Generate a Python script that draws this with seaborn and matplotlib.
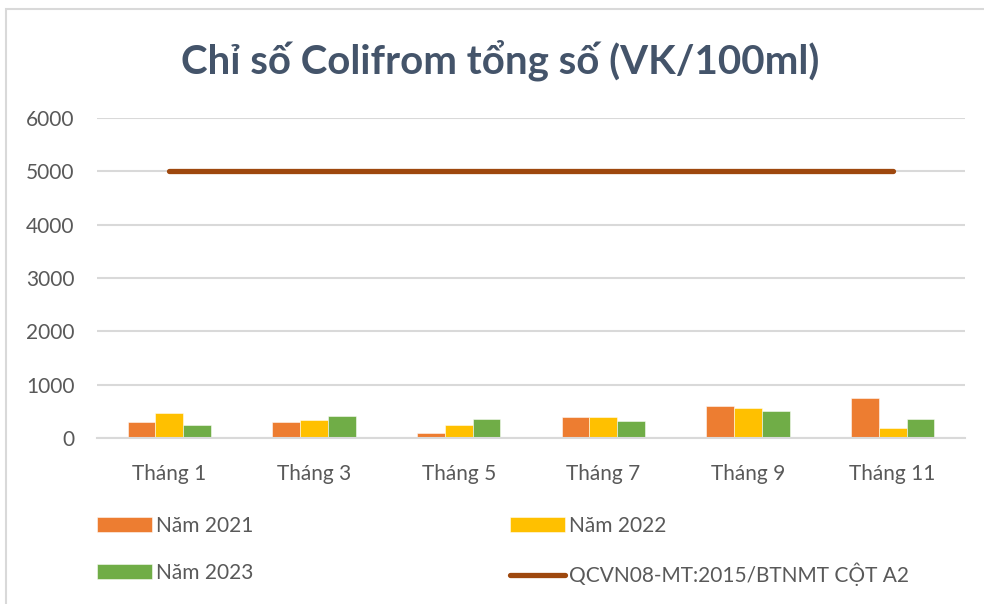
import matplotlib
matplotlib.use("Agg")
import matplotlib.pyplot as plt
import seaborn as sns
import pandas as pd
from matplotlib.patches import Rectangle

months = ["Tháng 1", "Tháng 3", "Tháng 5", "Tháng 7", "Tháng 9", "Tháng 11"]
nam_2021 = [305, 305, 90, 388, 592, 744]
nam_2022 = [465, 337, 235, 388, 566, 185]
nam_2023 = [235, 413, 363, 312, 515, 363]
standard = [5000, 5000, 5000, 5000, 5000, 5000]
series_names = ["Năm 2021", "Năm 2022", "Năm 2023"]
line_name = "QCVN08-MT:2015/BTNMT CỘT A2"
yticks = [0, 1000, 2000, 3000, 4000, 5000, 6000]
title = "Chỉ số Colifrom tổng số (VK/100ml)"

colors = ["#ED7D31", "#FFC000", "#70AD47"]
line_color = "#9E480E"
text_color = "#595959"
title_color = "#44546A"
grid_color = "#D9D9D9"

sns.set_theme(style="white")
plt.rcParams["font.family"] = ["Lato", "Open Sans", "DejaVu Sans"]

df = pd.DataFrame({
    "month": months * 3,
    "value": nam_2021 + nam_2022 + nam_2023,
    "series": [series_names[0]] * 6 + [series_names[1]] * 6 + [series_names[2]] * 6,
})
df_line = pd.DataFrame({"month": months, "value": standard})

fig = plt.figure(figsize=(9.84, 6.04), dpi=100)
ax = fig.add_axes([97 / 984, 1 - 438 / 604, 868 / 984, 320 / 604])

sns.barplot(data=df, x="month", y="value", hue="series", palette=colors,
            saturation=1, width=0.574, ax=ax, edgecolor=(1, 1, 1, 0.6), linewidth=0.6)
sns.lineplot(data=df_line, x="month", y="value", color=line_color, linewidth=3.8,
             ax=ax, label=line_name)
for ln in ax.lines:
    ln.set_solid_capstyle("round")

ax.set_xlim(-0.5, len(months) - 0.5)
ax.set_ylim(0, 6000)
ax.set_yticks(yticks)
ax.set_yticklabels([str(v) for v in yticks])
ax.set_xlabel("")
ax.set_ylabel("")
ax.yaxis.grid(True, color=grid_color, linewidth=1.5)
ax.set_axisbelow(True)
for s in ["top", "right", "left"]:
    ax.spines[s].set_visible(False)
ax.spines["bottom"].set_color(grid_color)
ax.spines["bottom"].set_linewidth(1.5)
ax.tick_params(axis="both", length=0, labelsize=15, labelcolor=text_color)
ax.tick_params(axis="y", pad=16)
ax.tick_params(axis="x", pad=19)

handles, labels = ax.get_legend_handles_labels()
ax.get_legend().remove()
order = [0, 2, 1, 3]
fig.legend([handles[i] for i in order], [labels[i] for i in order],
           ncol=2, loc="upper left", bbox_to_anchor=(78 / 984, 1 - 497 / 604),
           frameon=False, fontsize=15, labelcolor=text_color,
           handlelength=2.65, handletextpad=0.2, columnspacing=12.3,
           labelspacing=1.3)

fig.text(0.508, 1 - 60 / 604, title, ha="center", va="center",
         fontsize=29, fontweight="bold", color=title_color)

fig.patches.append(Rectangle((6 / 984, -0.1), 1.2, 1 - 9 / 604 + 0.1,
                             transform=fig.transFigure, fill=False,
                             edgecolor=grid_color, linewidth=1.5, zorder=0))

fig.savefig("out.png", dpi=100)
